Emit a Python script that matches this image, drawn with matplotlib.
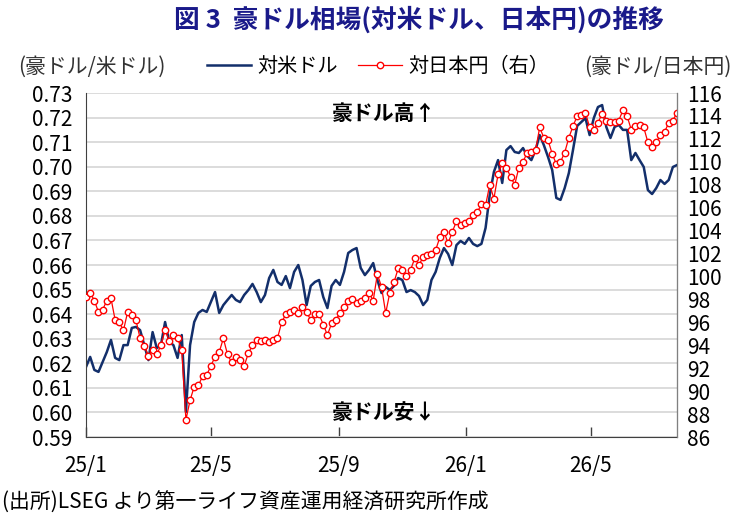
import matplotlib.pyplot as plt
import pandas as pd

plt.rcParams['font.family'] = ['Noto Sans CJK JP', 'DejaVu Sans']

# 4日おきのサンプル (2025/1/1 ~ 2026/7)
dates = pd.date_range('2025-01-01', periods=143, freq='4D')

# 豪ドル/米ドル (左軸)
aud_usd = [0.6185, 0.6226, 0.6173, 0.6165, 0.6205, 0.6246, 0.6295, 0.6222, 0.6213, 0.6274,
           0.6274, 0.6344, 0.6348, 0.6335, 0.6274, 0.6213, 0.6327, 0.6262, 0.6274, 0.6368,
           0.6287, 0.6274, 0.6222, 0.6315, 0.6002, 0.6274, 0.6368, 0.6405, 0.6417, 0.6409,
           0.6449, 0.6490, 0.6405, 0.6437, 0.6458, 0.6478, 0.6458, 0.6449, 0.6478, 0.6498,
           0.6523, 0.6490, 0.6449, 0.6478, 0.6547, 0.6580, 0.6531, 0.6519, 0.6555, 0.6506,
           0.6572, 0.6600, 0.6539, 0.6437, 0.6515, 0.6531, 0.6539, 0.6470, 0.6425, 0.6515,
           0.6539, 0.6519, 0.6572, 0.6649, 0.6661, 0.6669, 0.6588, 0.6559, 0.6580, 0.6608,
           0.6539, 0.6486, 0.6511, 0.6498, 0.6515, 0.6547, 0.6539, 0.6490, 0.6498, 0.6490,
           0.6474, 0.6437, 0.6458, 0.6539, 0.6572, 0.6629, 0.6669, 0.6645, 0.6600, 0.6681,
           0.6698, 0.6686, 0.6710, 0.6686, 0.6677, 0.6686, 0.6751, 0.6885, 0.6979, 0.7027,
           0.6934, 0.7068, 0.7084, 0.7060, 0.7056, 0.7076, 0.7044, 0.7027, 0.7068, 0.7129,
           0.7088, 0.7040, 0.6987, 0.6873, 0.6865, 0.6913, 0.6974, 0.7068, 0.7166, 0.7182,
           0.7198, 0.7129, 0.7198, 0.7243, 0.7251, 0.7162, 0.7117, 0.7162, 0.7170, 0.7150,
           0.7150, 0.7027, 0.7056, 0.7027, 0.6999, 0.6905, 0.6889, 0.6913, 0.6946, 0.6930,
           0.6946, 0.6999, 0.7007]

# 豪ドル/日本円 (右軸)
aud_jpy = [98.2, 98.6, 97.9, 96.9, 97.1, 97.9, 98.1, 96.2, 96.0, 95.3,
           96.9, 96.6, 96.2, 94.6, 93.9, 93.1, 93.6, 93.2, 94.0, 95.3,
           94.4, 94.9, 94.6, 93.6, 87.5, 89.2, 90.4, 90.5, 91.3, 91.4,
           92.2, 93.0, 93.4, 94.6, 93.2, 92.5, 93.0, 92.7, 92.2, 93.3,
           94.0, 94.5, 94.4, 94.5, 94.3, 94.5, 94.6, 96.0, 96.7, 96.9,
           97.1, 96.8, 97.3, 96.9, 96.2, 96.7, 96.7, 95.8, 94.9, 95.9,
           96.2, 96.8, 97.3, 97.9, 98.0, 97.7, 97.9, 98.1, 98.6, 97.9,
           100.2, 99.1, 96.8, 98.6, 99.5, 100.7, 100.6, 100.0, 100.6, 101.6,
           101.0, 101.7, 101.9, 102.0, 102.3, 103.4, 103.9, 102.9, 103.9, 104.8,
           104.5, 104.7, 104.8, 105.4, 105.6, 106.3, 106.2, 108.0, 106.8, 108.9,
           109.9, 109.5, 108.7, 108.0, 109.5, 110.0, 110.8, 110.9, 111.0, 113.0,
           112.1, 111.9, 110.7, 109.8, 110.0, 110.8, 112.1, 113.1, 114.0, 114.1,
           114.3, 113.0, 112.8, 113.4, 114.2, 113.6, 113.5, 113.5, 113.6, 114.5,
           114.0, 112.8, 113.1, 113.2, 113.0, 111.7, 111.3, 111.7, 112.3, 112.6,
           113.4, 113.6, 114.3]

tick_dates = ['2025-01-01', '2025-05-01', '2025-09-01', '2026-01-01', '2026-05-01']
tick_labels = ['25/1', '25/5', '25/9', '26/1', '26/5']
left_ticks = [0.59, 0.60, 0.61, 0.62, 0.63, 0.64, 0.65, 0.66, 0.67, 0.68, 0.69, 0.70, 0.71, 0.72, 0.73]
right_ticks = [86, 88, 90, 92, 94, 96, 98, 100, 102, 104, 106, 108, 110, 112, 114, 116]

navy = '#132f6b'
red = '#ff0000'

fig = plt.figure(figsize=(7.44, 5.2), dpi=100)
ax = fig.add_axes([0.1156, 0.1596, 0.7944, 0.6615])
ax2 = ax.twinx()

l1, = ax.plot(dates, aud_usd, color=navy, lw=1.8, label='対米ドル')
l2, = ax2.plot(dates, aud_jpy, color=red, lw=0.9, marker='o', ms=4.6,
               mfc='white', mec=red, mew=1.0, label='対日本円（右）')

ax.set_ylim(0.59, 0.73)
ax2.set_ylim(86, 116)
ax.set_xlim(dates[0], dates[-1])
ax.set_yticks(left_ticks)
ax.set_yticklabels([f'{v:.2f}' for v in left_ticks])
ax2.set_yticks(right_ticks)
ax.set_xticks(pd.to_datetime(tick_dates))
ax.set_xticklabels(tick_labels)

ax.grid(axis='y', color='#d9d9d9', lw=1.3)
ax.set_axisbelow(True)

ax.tick_params(axis='x', direction='in', length=7, width=1, color='#404040',
               labelsize=15, pad=13, colors='black')
ax.tick_params(axis='y', length=0, labelsize=15, pad=10)
ax2.tick_params(axis='y', length=0, labelsize=15, pad=7)

for a in (ax, ax2):
    a.spines['top'].set_visible(False)
ax.spines['left'].set_color('#404040')
ax.spines['bottom'].set_color('#404040')
ax2.spines['right'].set_color('#808080')
ax2.spines['left'].set_visible(False)
ax2.spines['bottom'].set_visible(False)

ax.text(0.505, 0.94, '豪ドル高↑', transform=ax.transAxes, ha='center', va='center',
        fontsize=15, fontweight='bold')
ax.text(0.505, 0.07, '豪ドル安↓', transform=ax.transAxes, ha='center', va='center',
        fontsize=15, fontweight='bold')

fig.text(0.563, 0.962, '図 3  豪ドル相場(対米ドル、日本円)の推移', ha='center', va='center',
         fontsize=18.5, fontweight='bold', color='#1a1a8a')
fig.text(0.025, 0.872, '(豪ドル/米ドル)', ha='left', va='center', fontsize=15, color='#333333')
fig.text(0.983, 0.872, '(豪ドル/日本円)', ha='right', va='center', fontsize=15, color='#333333')
fig.legend(handles=[l1, l2], loc='center', bbox_to_anchor=(0.508, 0.872), ncol=2,
           frameon=False, fontsize=14.5, handlelength=2.2, columnspacing=1.0, handletextpad=0.3)
fig.text(0.003, 0.033, '(出所)LSEG より第一ライフ資産運用経済研究所作成', ha='left', va='center',
         fontsize=15)

fig.savefig('out.png', dpi=100)
